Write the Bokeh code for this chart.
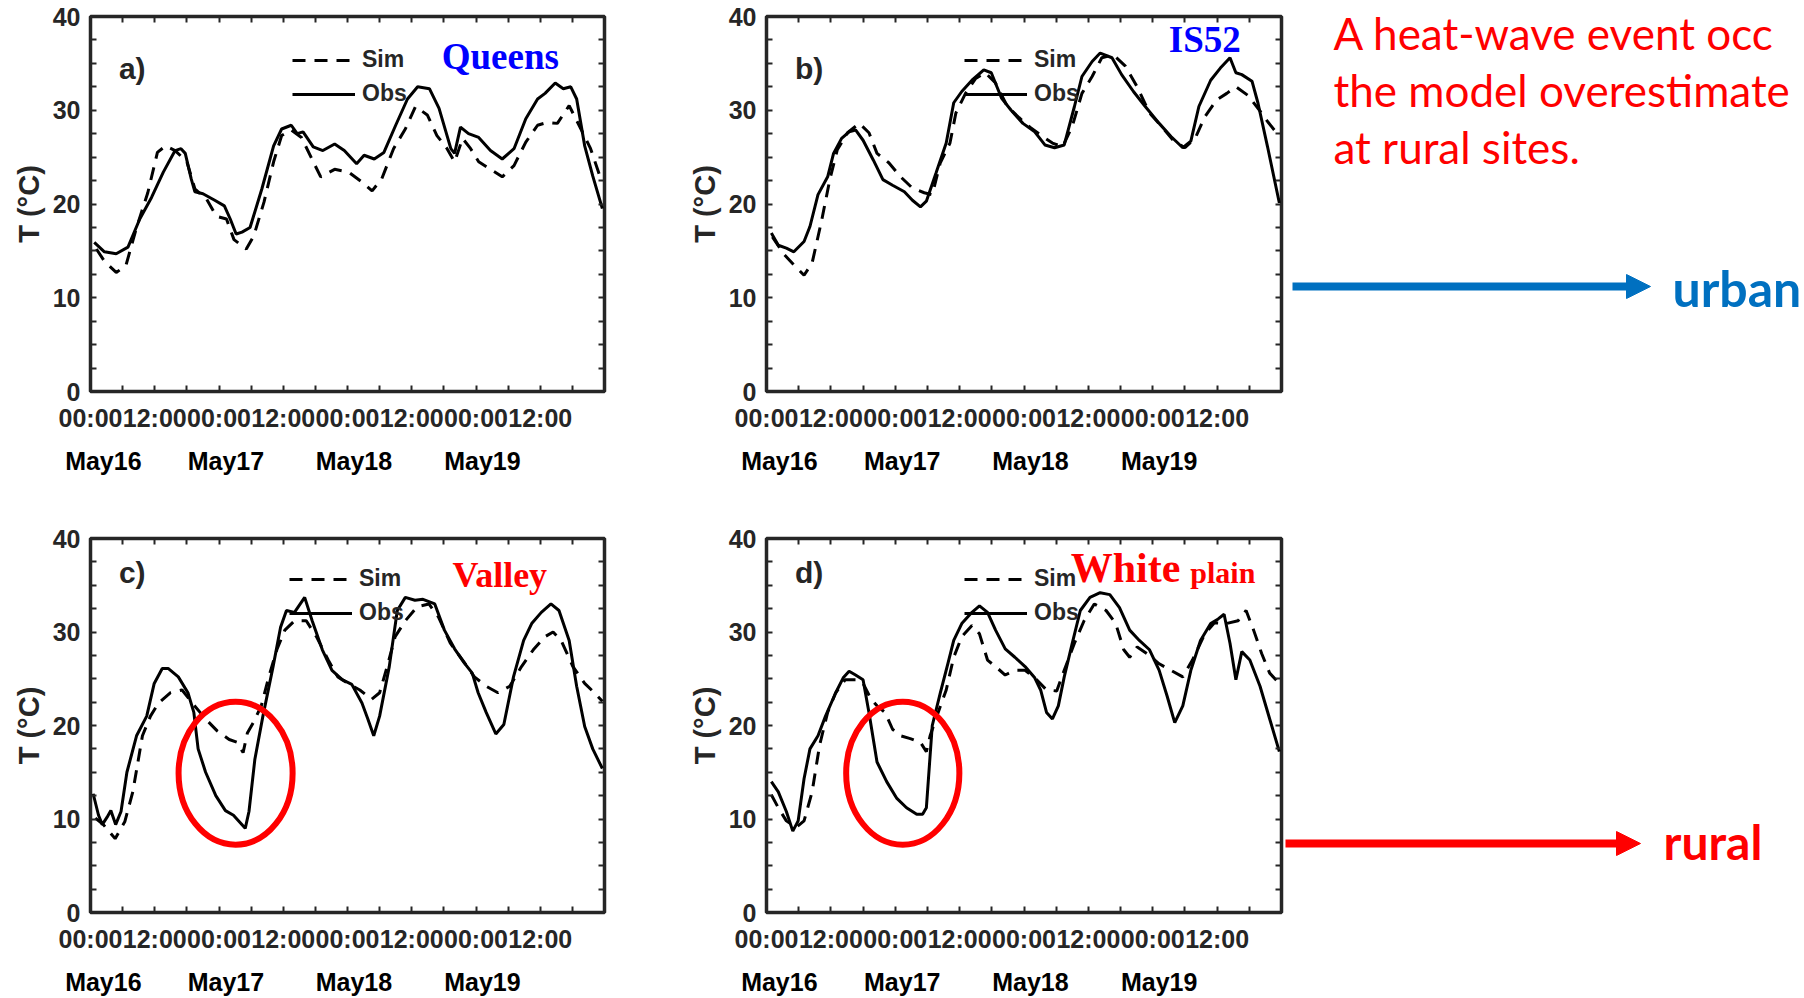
from bokeh.plotting import figure
from bokeh.models import (Range1d, FixedTicker, LinearAxis, Legend, LegendItem,
                          Arrow, NormalHead)
from bokeh.layouts import row, column
from bokeh.embed import file_html
from bokeh.resources import INLINE
from bokeh.core.properties import value

# ---------------- data (hours since May16 00:00, temperature in degC) ----------------
queens_obs_h = [0.7,2.6,4.8,7.0,9.2,11.4,13.6,15.8,16.9,17.7,18.8,19.5,21.0,23.2,25.0,26.1,27.2,28.3,29.8,32.0,
                34.2,35.7,37.5,38.6,39.7,41.6,43.4,45.6,47.4,49.7,51.1,53.0,54.8,57.0,59.2,61.1,63.3,65.1,67.3,68.0,
                69.1,70.6,72.5,74.7,76.9,79.1,81.3,83.5,84.9,86.8,88.3,89.7,90.8,92.3,93.8,95.6]
queens_obs_T = [15.9,14.9,14.7,15.4,18.4,20.7,23.4,25.7,25.9,25.4,22.7,21.3,21.1,20.4,19.8,18.4,16.8,17.0,17.5,21.6,
                26.2,28.0,28.4,27.5,27.7,26.1,25.7,26.4,25.7,24.3,25.2,24.8,25.5,28.4,31.2,32.5,32.3,30.2,25.9,25.4,
                28.2,27.5,27.1,25.7,24.8,25.9,29.1,31.2,31.8,32.9,32.3,32.5,31.2,26.2,23.0,19.5]
queens_sim_h = [1.1,2.6,4.8,6.6,8.5,10.7,12.5,14.0,15.8,18.0,19.5,21.7,23.5,25.4,26.8,29.1,30.5,32.4,34.2,35.7,
                37.5,39.4,41.6,43.0,45.6,48.2,50.8,52.6,54.4,56.6,58.8,60.7,62.9,64.7,66.6,68.0,69.5,71.0,72.5,74.7,
                76.9,79.1,81.3,83.5,85.3,87.2,89.4,91.6,93.4,95.3]
queens_sim_T = [15.2,13.9,12.7,13.4,17.3,21.2,25.5,26.2,25.7,24.5,21.6,20.5,18.7,18.4,16.2,15.2,16.6,20.2,24.5,27.3,
                27.9,27.1,24.5,22.9,23.7,23.4,22.3,21.4,22.7,25.9,28.0,30.4,29.5,27.3,25.9,24.5,27.0,25.9,24.5,23.7,
                22.9,24.1,26.6,28.4,28.7,28.6,30.5,28.0,25.9,22.7]

is52_obs_h = [0.9,2.2,3.7,5.1,7.0,8.1,9.6,11.4,12.5,14.0,15.4,16.6,18.0,19.9,21.7,23.5,25.7,27.2,28.7,29.8,
              31.6,33.5,34.9,36.4,38.3,40.5,41.9,43.8,45.6,47.8,50.0,51.9,53.7,55.5,57.4,58.8,60.7,62.2,64.4,66.2,
              68.4,70.6,73.2,75.4,77.6,79.1,80.6,82.8,84.6,86.4,87.5,88.6,90.5,91.6,93.4,95.6]
is52_obs_T = [16.9,15.6,15.3,14.9,16.0,17.6,21.0,22.9,25.4,27.0,27.7,27.9,26.8,24.7,22.6,22.0,21.3,20.4,19.7,20.3,
              23.3,26.5,30.8,32.0,33.2,34.3,34.0,31.3,30.0,28.6,27.7,26.3,26.0,26.3,30.4,33.6,35.2,36.1,35.6,33.8,
              32.0,30.4,28.6,27.2,26.0,26.7,30.4,33.2,34.5,35.6,34.0,33.8,33.1,30.8,26.1,20.1]
is52_sim_h = [1.1,3.3,5.1,7.0,8.5,10.3,11.8,13.2,15.1,17.3,19.1,20.6,22.8,25.0,27.2,29.4,30.9,32.4,34.2,35.3,
              37.1,39.0,40.8,42.7,44.9,47.1,49.3,51.5,53.3,55.2,57.0,58.8,60.7,62.5,64.7,66.9,69.1,71.4,73.6,75.8,
              78.0,79.9,81.7,83.9,85.8,87.5,89.7,91.9,93.4,95.6]
is52_sim_T = [16.5,14.6,13.5,12.4,13.7,18.3,22.6,25.8,27.6,28.6,27.6,25.4,24.4,22.9,21.7,21.2,21.0,24.4,26.5,29.7,
              31.8,33.4,34.0,32.9,30.4,29.2,28.1,27.2,26.5,26.1,28.3,31.8,33.6,35.6,35.9,34.7,32.5,29.7,28.3,26.8,
              26.0,27.0,29.3,31.1,31.8,32.5,31.6,30.0,28.8,27.2]

valley_obs_h = [0.5,1.5,2.2,3.1,3.8,4.7,5.7,6.8,8.6,10.5,11.9,13.4,14.5,16.4,18.2,19.3,20.1,21.5,23.4,25.2,
                26.7,27.8,28.9,29.6,30.7,32.2,34.1,35.5,36.6,38.1,40.0,41.4,43.3,45.1,47.0,48.8,50.7,51.8,52.9,54.0,
                55.8,57.3,58.8,60.6,62.1,64.3,66.1,68.0,69.8,71.3,72.4,73.9,75.7,77.2,79.0,80.9,82.4,84.2,86.0,87.5,
                89.4,90.8,92.3,93.8,95.6]
valley_obs_T = [12.7,10.4,9.4,10.2,10.9,9.4,10.8,15.0,18.9,21.0,24.5,26.1,26.1,25.2,23.5,21.4,17.5,15.0,12.5,10.9,
                10.4,9.7,9.0,10.8,16.4,21.0,26.3,30.5,32.3,32.1,33.7,31.2,28.1,25.9,24.9,24.4,22.4,20.7,18.9,21.0,
                26.3,32.3,33.7,33.4,33.5,33.0,30.2,28.2,26.7,25.6,23.5,21.4,19.1,20.1,25.2,29.1,30.9,32.1,33.0,32.3,
                29.1,24.2,19.9,17.5,15.4]
valley_sim_h = [0.9,2.4,4.6,6.4,7.9,9.7,11.2,12.7,14.9,17.1,19.3,21.5,23.7,25.9,27.4,28.5,29.3,30.4,31.9,33.3,
                34.8,36.3,38.1,40.3,42.2,44.4,46.2,48.1,50.3,52.5,54.0,55.4,56.9,58.8,61.0,63.2,65.0,67.2,69.5,71.7,
                73.9,76.1,78.3,80.5,82.7,84.9,86.4,87.9,90.1,92.3,94.1,95.6]
valley_sim_T = [10.1,9.4,7.9,9.7,12.9,18.9,21.0,22.4,23.5,23.8,22.2,20.7,19.4,18.5,18.2,17.1,19.2,20.3,22.1,25.2,
                28.1,30.2,31.2,31.2,29.5,27.0,25.2,24.5,23.8,22.8,23.5,26.3,29.5,31.2,32.7,33.0,31.6,28.8,27.0,25.2,
                24.2,23.5,24.2,26.3,28.1,29.5,30.0,29.1,26.3,24.5,23.5,22.6]

white_obs_h = [0.9,2.2,3.7,4.9,5.9,7.0,8.1,9.6,11.0,12.9,14.3,15.4,16.6,18.0,19.1,20.6,22.4,24.3,26.1,28.0,
               29.1,29.8,30.9,32.4,33.8,34.9,36.4,38.3,39.7,41.2,42.7,44.5,46.3,48.2,50.0,51.1,52.2,53.3,54.4,55.5,
               57.0,58.5,60.3,62.2,64.0,65.8,67.7,69.5,71.4,73.2,74.7,76.1,77.6,79.1,80.9,82.8,84.2,85.3,86.4,87.5,
               88.6,90.1,92.0,93.8,95.6]
white_obs_T = [14.0,12.9,10.8,8.7,9.8,14.3,17.5,18.9,21.0,23.5,25.1,25.8,25.4,24.9,21.4,16.1,14.0,12.2,11.2,10.5,
               10.5,11.2,20.0,23.5,26.6,29.1,30.9,32.1,32.8,32.1,30.2,28.2,27.3,26.3,25.1,23.8,21.4,20.7,22.1,25.2,
               28.8,32.3,33.7,34.2,34.0,32.6,30.2,29.1,28.1,25.9,23.1,20.3,22.1,25.9,29.1,30.9,31.4,31.9,28.8,24.9,
               27.9,27.0,24.2,20.7,17.2]
white_sim_h = [0.9,2.2,3.7,5.5,7.0,8.5,9.9,11.4,12.9,14.7,16.6,18.0,19.5,20.6,22.1,23.5,25.0,26.8,28.7,29.8,
               30.5,32.0,33.5,34.9,36.4,38.3,39.7,41.2,42.7,44.5,46.3,48.2,50.0,52.2,54.1,55.5,57.4,59.2,61.1,63.3,
               65.1,66.6,67.7,69.1,70.9,73.2,75.4,77.6,79.4,81.7,83.5,85.7,87.9,89.4,90.8,92.3,93.8,95.6]
white_sim_T = [12.6,11.2,9.8,9.1,9.8,12.9,17.9,21.4,23.5,24.9,24.9,24.5,22.8,22.1,21.4,19.6,18.9,18.6,18.2,17.2,
               18.9,21.4,23.8,27.3,29.5,30.7,29.8,27.0,26.3,25.4,25.9,25.9,25.1,23.8,23.7,25.9,28.8,31.2,33.0,32.3,
               30.9,28.1,27.3,28.4,27.7,26.6,25.9,25.2,27.0,29.8,31.0,30.9,31.2,32.3,30.2,27.7,25.6,24.5]

# axis ticks and labels
time_tick_h = [0, 12, 24, 36, 48, 60, 72, 84]
time_tick_labels = ["00:00", "12:00", "00:00", "12:00", "00:00", "12:00", "00:00", "12:00"]
time_minor_h = [6, 18, 30, 42, 54, 66, 78, 90]
date_labels = ["May16", "May17", "May18", "May19"]
date_label_h = [2.4, 25.3, 49.2, 73.2]
temp_ticks = [0, 10, 20, 30, 40]
temp_minor = [2.5, 5, 7.5, 12.5, 15, 17.5, 22.5, 25, 27.5, 32.5, 35, 37.5]

# circled night at the rural sites: centre hour, centre T, width (h), height (degC)
valley_highlight = (27.1, 14.9, 21.3, 15.3)
white_highlight = (25.4, 14.9, 21.1, 15.3)

AX = "#262626"
FONT = "Liberation Sans"
SERIF = "Liberation Serif"


def style_axis(ax, size="25px", color=AX):
    ax.axis_line_color = None
    ax.major_tick_in = 6
    ax.major_tick_out = 0
    ax.minor_tick_in = 6
    ax.minor_tick_out = 0
    ax.major_tick_line_color = AX
    ax.minor_tick_line_color = AX
    ax.major_tick_line_width = 2
    ax.minor_tick_line_width = 2
    ax.major_label_text_font = FONT
    ax.major_label_text_font_style = "bold"
    ax.major_label_text_font_size = size
    ax.major_label_text_color = color


def make_panel(obs_h, obs_T, sim_h, sim_T, tag, tag_T, names, width, height,
               bl, br, bt, bb, legend_loc, highlight=None):
    p = figure(width=width, height=height, x_range=Range1d(0, 96), y_range=Range1d(0, 40),
               output_backend="svg", toolbar_location=None,
               min_border_left=bl, min_border_right=br, min_border_top=bt, min_border_bottom=bb)
    p.grid.visible = False
    p.background_fill_color = "white"
    p.border_fill_color = "white"
    p.outline_line_color = AX
    p.outline_line_width = 3.5
    p.outline_line_alpha = 1

    xa = p.xaxis[0]
    xa.ticker = FixedTicker(ticks=time_tick_h, minor_ticks=time_minor_h)
    xa.major_label_overrides = {h: s for h, s in zip(time_tick_h, time_tick_labels)}
    style_axis(xa)
    xa.major_label_standoff = 12

    ya = p.yaxis[0]
    ya.ticker = FixedTicker(ticks=temp_ticks, minor_ticks=temp_minor)
    style_axis(ya)
    ya.major_label_standoff = 10
    ya.axis_label = "T (°C)"
    ya.axis_label_text_font = FONT
    ya.axis_label_text_font_style = "bold"
    ya.axis_label_text_font_size = "29px"
    ya.axis_label_text_color = AX
    ya.axis_label_standoff = 5

    # date row under the time labels
    da = LinearAxis(ticker=FixedTicker(ticks=date_label_h),
                    major_label_overrides={h: s for h, s in zip(date_label_h, date_labels)})
    style_axis(da, color="black")
    da.major_tick_line_color = None
    da.minor_tick_line_color = None
    da.major_tick_in = 0
    da.minor_tick_in = 0
    da.major_label_standoff = 12
    p.add_layout(da, "below")

    # box ticks on top and right (no labels)
    ta = LinearAxis(ticker=FixedTicker(ticks=time_tick_h, minor_ticks=time_minor_h))
    style_axis(ta, size="1px", color=None)
    ta.major_label_standoff = 0
    p.add_layout(ta, "above")
    ra = LinearAxis(ticker=FixedTicker(ticks=temp_ticks, minor_ticks=temp_minor))
    style_axis(ra, size="1px", color=None)
    ra.major_label_standoff = 0
    p.add_layout(ra, "right")

    r_sim = p.line(sim_h, sim_T, line_color="black", line_width=3, line_dash="13 9")
    r_obs = p.line(obs_h, obs_T, line_color="black", line_width=3)

    leg = Legend(items=[LegendItem(label="Sim", renderers=[r_sim]),
                        LegendItem(label="Obs", renderers=[r_obs])],
                 location=legend_loc, background_fill_alpha=0, border_line_alpha=0,
                 glyph_width=63, glyph_height=26, label_height=26, spacing=7,
                 padding=0, margin=0, label_standoff=7,
                 label_text_font=FONT, label_text_font_style="bold",
                 label_text_font_size="23px", label_text_color=AX)
    p.add_layout(leg)

    p.text(x=[5.3], y=[tag_T], text=[tag], text_font=value(FONT), text_font_style="bold",
           text_font_size="30px", text_color=AX, text_align="left", text_baseline="middle")

    for (nx, ny, txt, size, color) in names:
        p.text(x=[nx], y=[ny], text=[txt], text_font=value(SERIF), text_font_style="bold",
               text_font_size=size, text_color=color, text_align="left", text_baseline="alphabetic")

    if highlight is not None:
        cx, cy, w, h = highlight
        p.ellipse(x=[cx], y=[cy], width=w, height=h, fill_color=None,
                  line_color="#FF0000", line_width=6)
    return p


pa = make_panel(queens_obs_h, queens_obs_T, queens_sim_h, queens_sim_T, "a)", 34.5,
                [(65.6, 35.7, "Queens", "37px", "#0000FF")],
                680, 500, 90, 76, 16, 109, (202, 284))
pb = make_panel(is52_obs_h, is52_obs_T, is52_sim_h, is52_sim_T, "b)", 34.5,
                [(75.0, 37.5, "IS52", "37px", "#0000FF")],
                604, 500, 86, 3, 16, 109, (198, 284))
pc = make_panel(valley_obs_h, valley_obs_T, valley_sim_h, valley_sim_T, "c)", 36.4,
                [(67.6, 36.1, "Valley", "36px", "#FF0000")],
                680, 498, 90, 76, 38, 83, (199, 286), valley_highlight)
pd = make_panel(white_obs_h, white_obs_T, white_sim_h, white_sim_T, "d)", 36.4,
                [(56.7, 36.8, "White", "42px", "#FF0000"), (79.0, 36.35, "plain", "30px", "#FF0000")],
                604, 498, 86, 3, 38, 83, (198, 286), white_highlight)

# right-hand annotation area (pixel coordinates of the page)
side = figure(width=520, height=998, x_range=Range1d(1284, 1804), y_range=Range1d(998, 0),
              output_backend="svg", toolbar_location=None, min_border=0)
side.axis.visible = False
side.grid.visible = False
side.outline_line_color = None
side.background_fill_color = "white"
side.border_fill_color = "white"

note_lines = ["A heat-wave event occ", "the model overestimate", "at rural sites."]
side.text(x=[1333, 1333, 1333], y=[32, 89, 146], text=note_lines, text_font=value("Lato"),
          text_font_size="44px", text_color="#FF0000", text_align="left", text_baseline="alphabetic")

BLUE = "#0070C0"
RED = "#FF0000"
side.add_layout(Arrow(end=NormalHead(size=24, fill_color=BLUE, line_color=BLUE),
                      x_start=1292, y_start=286, x_end=1650, y_end=286,
                      line_color=BLUE, line_width=8))
side.text(x=[1672], y=[287], text=["urban"], text_font=value("Lato"), text_font_style="bold",
          text_font_size="50px", text_color=BLUE, text_align="left", text_baseline="alphabetic")
side.add_layout(Arrow(end=NormalHead(size=24, fill_color=RED, line_color=RED),
                      x_start=1285, y_start=843, x_end=1640, y_end=843,
                      line_color=RED, line_width=8))
side.text(x=[1663], y=[841], text=["rural"], text_font=value("Lato"), text_font_style="bold",
          text_font_size="48px", text_color=RED, text_align="left", text_baseline="alphabetic")

layout = row(column(row(pa, pb), row(pc, pd)), side)
open("out.html", "w").write(file_html(layout, INLINE))
